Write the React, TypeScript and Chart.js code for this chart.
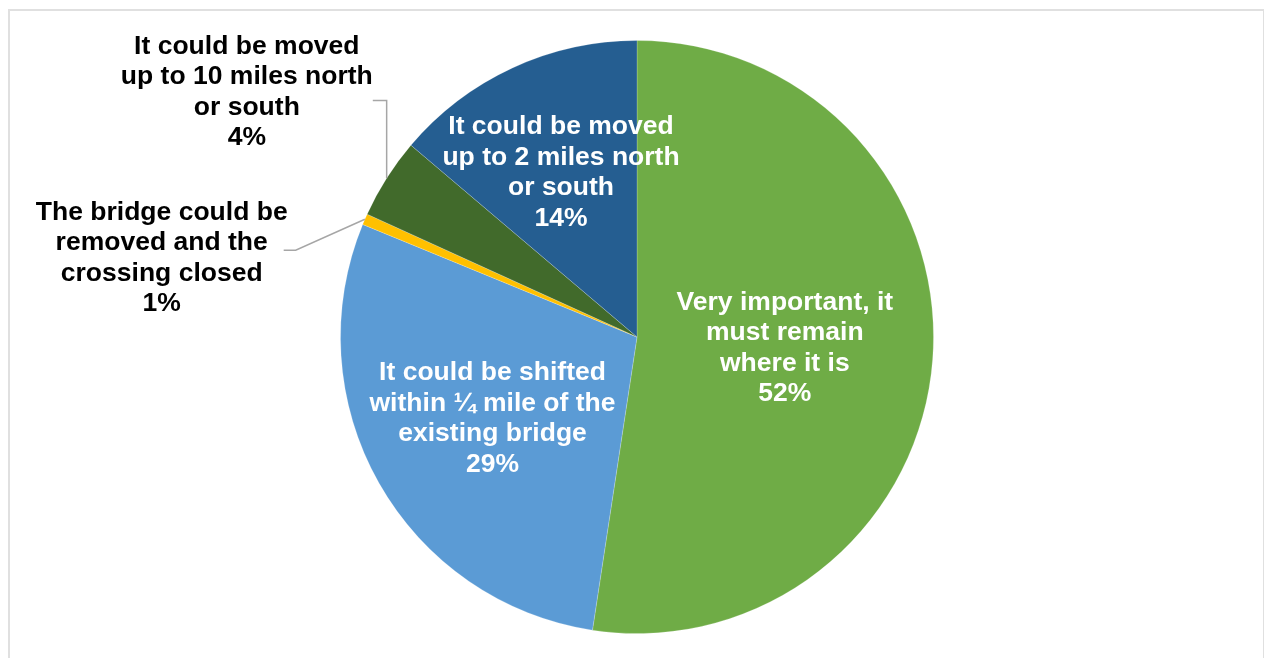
import React, { useEffect, useRef } from "react";
import { Chart, registerables } from "chart.js";

Chart.register(...registerables);

// ---- data ----
const categories = [
  "Very important, it must remain where it is",
  "It could be shifted within ¼ mile of the existing bridge",
  "The bridge could be removed and the crossing closed",
  "It could be moved up to 10 miles north or south",
  "It could be moved up to 2 miles north or south",
];
const categoryLines = [
  ["Very important, it", "must remain", "where it is"],
  ["It could be shifted", "within ¼ mile of the", "existing bridge"],
  ["The bridge could be", "removed and the", "crossing closed"],
  ["It could be moved", "up to 10 miles north", "or south"],
  ["It could be moved", "up to 2 miles north", "or south"],
];
const shares = [52.4, 28.8, 0.6, 4.4, 13.8];
const sliceColors = ["#6fac46", "#5b9bd5", "#ffc000", "#416a2b", "#255e91"];
const labelColors = ["#ffffff", "#ffffff", "#000000", "#000000", "#ffffff"];

// ---- label placement (relative to pie radius) ----
type Placement =
  | { kind: "inside"; r: number }
  | { kind: "outside"; dx: number; dy: number; leader: "diag" | "elbow" };
const placements: Placement[] = [
  { kind: "inside", r: 0.5 },
  { kind: "inside", r: 0.56 },
  { kind: "outside", dx: -1.603, dy: -0.266, leader: "diag" },
  { kind: "outside", dx: -1.316, dy: -0.825, leader: "elbow" },
  { kind: "inside", r: 0.61 },
];

const FONT = 'bold 26px "Liberation Sans", Arial, sans-serif';
const LINE_H = 30.5;
const SCALE_X = 1.02;

const labelPlugin = {
  id: "sliceLabels",
  afterDraw(chart: any) {
    const ctx: CanvasRenderingContext2D = chart.ctx;
    const meta = chart.getDatasetMeta(0);
    const total = shares.reduce((a, b) => a + b, 0);
    ctx.save();
    ctx.font = FONT;
    ctx.textAlign = "center";
    ctx.textBaseline = "middle";
    meta.data.forEach((arc: any, i: number) => {
      const p = arc.getProps(["x", "y", "startAngle", "endAngle", "outerRadius"], true);
      const mid = (p.startAngle + p.endAngle) / 2;
      const R = p.outerRadius;
      const pct = Math.round((shares[i] / total) * 100) + "%";
      const lines = [...categoryLines[i], pct];
      const pl = placements[i];
      let lx: number, ly: number;
      if (pl.kind === "inside") {
        lx = p.x + Math.cos(mid) * R * pl.r;
        ly = p.y + Math.sin(mid) * R * pl.r;
      } else {
        lx = p.x + pl.dx * R;
        ly = p.y + pl.dy * R;
        const maxW = Math.max(...lines.map((l) => ctx.measureText(l).width)) * SCALE_X;
        const right = lx + maxW / 2;
        const ex = p.x + Math.cos(mid) * R;
        const ey = p.y + Math.sin(mid) * R;
        ctx.strokeStyle = "#a6a6a6";
        ctx.lineWidth = 1.5;
        ctx.beginPath();
        if (pl.leader === "elbow") {
          const hy = ly + 8;
          ctx.moveTo(right, hy);
          ctx.lineTo(ex, hy);
          ctx.lineTo(ex, ey);
        } else {
          const hy = ly - 8;
          ctx.moveTo(right - 4, hy);
          ctx.lineTo(right + 8, hy);
          ctx.lineTo(ex, ey);
        }
        ctx.stroke();
      }
      ctx.fillStyle = labelColors[i];
      lines.forEach((line, k) => {
        const yy = ly + (k - (lines.length - 1) / 2) * LINE_H;
        ctx.save();
        ctx.translate(lx, yy);
        ctx.scale(SCALE_X, 1);
        ctx.fillText(line, 0, 0);
        ctx.restore();
      });
    });
    ctx.restore();
  },
};

export default function App() {
  const ref = useRef<HTMLCanvasElement>(null);
  useEffect(() => {
    if (!ref.current) return;
    const chart = new Chart(ref.current, {
      type: "pie",
      data: {
        labels: categories,
        datasets: [
          {
            data: shares,
            backgroundColor: sliceColors,
            borderColor: "rgba(255,255,255,0.2)",
            borderWidth: 1,
          },
        ],
      },
      options: {
        responsive: false,
        animation: false,
        layout: { padding: { top: 40, bottom: 24, left: 10, right: 0 } },
        plugins: {
          legend: { display: false },
          tooltip: { enabled: false },
          title: { display: false },
        },
      },
      plugins: [labelPlugin],
    });
    return () => chart.destroy();
  }, []);
  return (
    <div style={{ position: "fixed", left: 0, top: 0, width: 1264, height: 658, background: "#fff", overflow: "hidden" }}>
      <div
        style={{
          position: "absolute",
          left: 8,
          top: 9,
          width: 1253,
          height: 700,
          borderTop: "2px solid #e0e0e0",
          borderLeft: "2px solid #e0e0e0",
          borderRight: "2px solid #e0e0e0",
        }}
      />
      <canvas ref={ref} width={1264} height={658} style={{ position: "absolute", left: 0, top: 0 }} />
    </div>
  );
}
